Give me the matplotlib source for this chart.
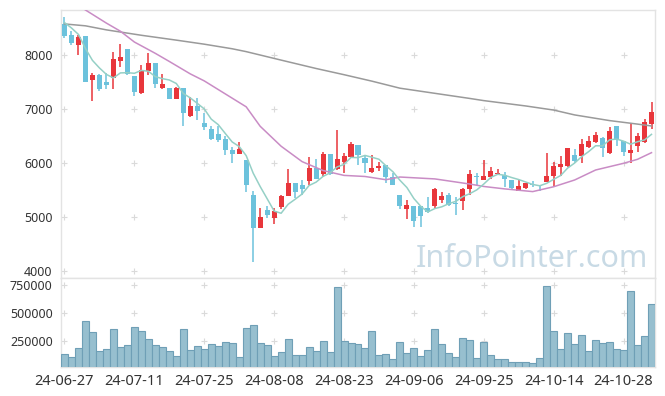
import numpy as np
import matplotlib.pyplot as plt

# daily candles, 24-06-27 .. 24-11-01 (85 trading days)
opens = [8574, 8364, 8191, 8352, 7537, 7630, 7500, 7580, 7895, 8111,
         7611, 7302, 7710, 7852, 7389, 7389, 7191, 7389, 6864, 7049,
         6741, 6630, 6543, 6444, 6241, 6173, 6056, 5407, 4802, 5130,
         4981, 5191, 5395, 5630, 5593, 5673, 5901, 5796, 6167, 5883,
         6025, 6117, 6333, 6099, 5840, 5901, 5963, 5747, 5407, 5142,
         5204, 5204, 5161, 5210, 5315, 5407, 5250, 5302, 5513, 5760,
         5685, 5735, 5800, 5778, 5685, 5488, 5531, 5600, 5590, 5654,
         5759, 5932, 5951, 6148, 6136, 6302, 6395, 6469, 6191, 6685,
         6407, 6191, 6321, 6395, 6716]
highs = [8704, 8439, 8376, 8360, 7667, 7640, 7667, 8056, 8198, 8115,
         7615, 7809, 8031, 7855, 7648, 7395, 7413, 7395, 7222, 7204,
         6920, 6685, 6685, 6500, 6296, 6383, 6060, 5481, 5160, 5204,
         5160, 5407, 5883, 5635, 5685, 6105, 6080, 6209, 6170, 6611,
         6179, 6389, 6340, 6148, 6148, 6013, 5970, 5821, 5410, 5315,
         5207, 5207, 5364, 5531, 5457, 5444, 5377, 5531, 5870, 5809,
         6056, 5932, 5883, 5840, 5688, 5685, 5630, 5667, 5600, 6191,
         6025, 6130, 6280, 6253, 6438, 6500, 6580, 6475, 6673, 6690,
         6410, 6735, 6549, 6809, 7124]
lows = [8315, 8191, 8006, 7495, 7142, 7340, 7364, 7364, 7772, 7630,
        7241, 7278, 7636, 7389, 7377, 7179, 7179, 6679, 6852, 6796,
        6611, 6426, 6395, 6148, 5994, 6173, 5463, 4161, 4802, 4975,
        4864, 5148, 5395, 5346, 5407, 5587, 5700, 5735, 5780, 5870,
        5809, 6100, 5963, 5821, 5809, 5858, 5623, 5593, 5142, 4957,
        4821, 4809, 5068, 5142, 5253, 5210, 5037, 5130, 5407, 5593,
        5685, 5698, 5778, 5550, 5500, 5488, 5525, 5562, 5488, 5654,
        5574, 5759, 5932, 5994, 5994, 6272, 6364, 6105, 6167, 6315,
        6123, 6006, 6210, 6364, 6624]
closes = [8352, 8228, 8328, 7500, 7630, 7370, 7451, 7926, 7963, 7648,
          7315, 7716, 7852, 7463, 7463, 7191, 7389, 6932, 7049, 6963,
          6673, 6444, 6420, 6241, 6167, 6253, 5599, 4802, 5000, 5037,
          5111, 5395, 5630, 5469, 5519, 5901, 5704, 6167, 5790, 6068,
          6136, 6352, 6148, 5994, 5901, 5951, 5747, 5593, 5210, 5222,
          4932, 5019, 5087, 5519, 5389, 5222, 5235, 5519, 5796, 5740,
          5759, 5846, 5815, 5698, 5531, 5574, 5624, 5585, 5575, 5759,
          5944, 5975, 6278, 6037, 6352, 6407, 6519, 6272, 6593, 6426,
          6210, 6241, 6500, 6759, 6939]
volumes = [131000, 104000, 185000, 426000, 327000, 161000, 176000, 354000, 193000, 211000,
           372000, 336000, 265000, 211000, 193000, 161000, 113000, 354000, 167000, 202000,
           176000, 220000, 202000, 238000, 229000, 104000, 363000, 390000, 229000, 211000,
           113000, 149000, 265000, 122000, 122000, 193000, 158000, 247000, 149000, 729000,
           250000, 232000, 220000, 185000, 336000, 122000, 131000, 86000, 238000, 140000,
           185000, 113000, 167000, 354000, 220000, 140000, 104000, 274000, 256000, 95000,
           241000, 122000, 86000, 86000, 60000, 60000, 60000, 51000, 95000, 738000,
           336000, 176000, 318000, 220000, 301000, 161000, 256000, 229000, 238000, 176000,
           167000, 693000, 211000, 292000, 577000]

# moving averages
ma5 = [8600, 8500, 8380, 8120, 7900, 7760, 7640, 7575, 7668, 7672,
       7661, 7714, 7699, 7599, 7562, 7537, 7472, 7288, 7205, 7105,
       7001, 6812, 6710, 6548, 6389, 6305, 6136, 5812, 5564, 5338,
       5110, 5069, 5235, 5328, 5425, 5583, 5645, 5752, 5816, 5926,
       5973, 6103, 6099, 6140, 6106, 6069, 5948, 5837, 5680, 5545,
       5341, 5195, 5094, 5156, 5189, 5247, 5290, 5377, 5432, 5502,
       5610, 5732, 5791, 5772, 5730, 5693, 5648, 5602, 5578, 5623,
       5697, 5768, 5906, 5999, 6117, 6210, 6319, 6317, 6429, 6443,
       6404, 6348, 6394, 6427, 6530]
ma20_idx = [0, 3, 6, 8, 10, 13, 15, 18, 20, 22, 26, 28, 31, 34, 37, 40, 43, 46,
            48, 53, 58, 60, 63, 67, 70, 73, 76, 80, 82, 84]
ma20 = [9080, 8833, 8590, 8440, 8240, 8030, 7880, 7650, 7520, 7360, 7040, 6680,
        6310, 6025, 5860, 5770, 5750, 5690, 5740, 5705, 5610, 5565, 5520, 5470,
        5560, 5685, 5870, 5994, 6068, 6191]
ma60_idx = [0, 3, 6, 11, 16, 20, 24, 26, 31, 36, 40, 44, 48, 53, 58, 60, 66, 70,
            73, 78, 82, 84]
ma60 = [8575, 8540, 8465, 8365, 8275, 8200, 8115, 8062, 7905, 7750, 7635, 7515,
        7385, 7290, 7195, 7155, 7056, 6980, 6890, 6785, 6720, 6685]

tick_pos = [0, 10, 20, 30, 40, 50, 60, 70, 80]
tick_labels = ['24-06-27', '24-07-11', '24-07-25', '24-08-08', '24-08-23',
               '24-09-06', '24-09-25', '24-10-14', '24-10-28']
price_ticks = [4000, 5000, 6000, 7000, 8000]
vol_ticks = [250000, 500000, 750000]

RED = '#e8363b'
BLUE = '#6cc2dc'
SPINE = '#e3e3e3'
TXT = '#333333'

plt.rcParams['font.family'] = ['Noto Sans', 'DejaVu Sans']

fig = plt.figure(figsize=(6.65, 3.96), dpi=100)
ax = fig.add_axes([61 / 665, 1 - 278 / 396, 594 / 665, 268 / 396])
axv = fig.add_axes([61 / 665, 1 - 367 / 396, 594 / 665, 89 / 396], sharex=ax)

o = np.array(opens)
h = np.array(highs)
l = np.array(lows)
c = np.array(closes)
x = np.arange(len(c))
cols = np.where(c >= o, RED, BLUE)

# candles
ax.vlines(x, l, h, colors=cols, lw=1.1, zorder=3)
ax.bar(x, np.maximum(np.abs(c - o), 18), bottom=np.minimum(o, c), width=0.72,
       color=cols, lw=0, zorder=4)

# moving averages
ax.plot(ma60_idx, ma60, color='#9a9a9a', lw=1.1, zorder=5)
ax.plot(ma20_idx, ma20, color='#c98cc5', lw=1.1, zorder=5)
ax.plot(x, ma5, color='#95d0c6', lw=1.1, zorder=5)

# volume
axv.bar(x, volumes, width=1.0, color='#97bfcf', edgecolor='#6f9fb6', lw=0.8, zorder=3)

# "+" grid marks
gx, gy = np.meshgrid(tick_pos, price_ticks)
ax.plot(gx.ravel(), gy.ravel(), '+', ms=4.5, mew=0.8, color='#dadada', zorder=1)
gx, gy = np.meshgrid(tick_pos, vol_ticks)
axv.plot(gx.ravel(), gy.ravel(), '+', ms=4.5, mew=0.8, color='#dadada', zorder=1)

ax.set_xlim(-0.5, 84.5)
ax.set_ylim(3870, 8833)
axv.set_ylim(17857, 812500)

ax.set_yticks(price_ticks)
axv.set_yticks(vol_ticks)
axv.set_yticklabels([str(v) for v in vol_ticks])
axv.set_xticks(tick_pos)
axv.set_xticklabels(tick_labels)
ax.tick_params(axis='x', labelbottom=False, length=0)
ax.tick_params(axis='y', length=0, pad=6, labelsize=9, colors=TXT)
axv.tick_params(axis='both', length=0, colors=TXT)
axv.tick_params(axis='y', pad=6, labelsize=9)
axv.tick_params(axis='x', pad=5, labelsize=10.5)

for a in (ax, axv):
    for s in a.spines.values():
        s.set_color(SPINE)
        s.set_linewidth(1)

ax.text(0.988, 0.041, 'InfoPointer.com', transform=ax.transAxes, ha='right',
        va='baseline', fontsize=22, color='#c8dae5', zorder=6)

fig.savefig('out.png', dpi=100)
